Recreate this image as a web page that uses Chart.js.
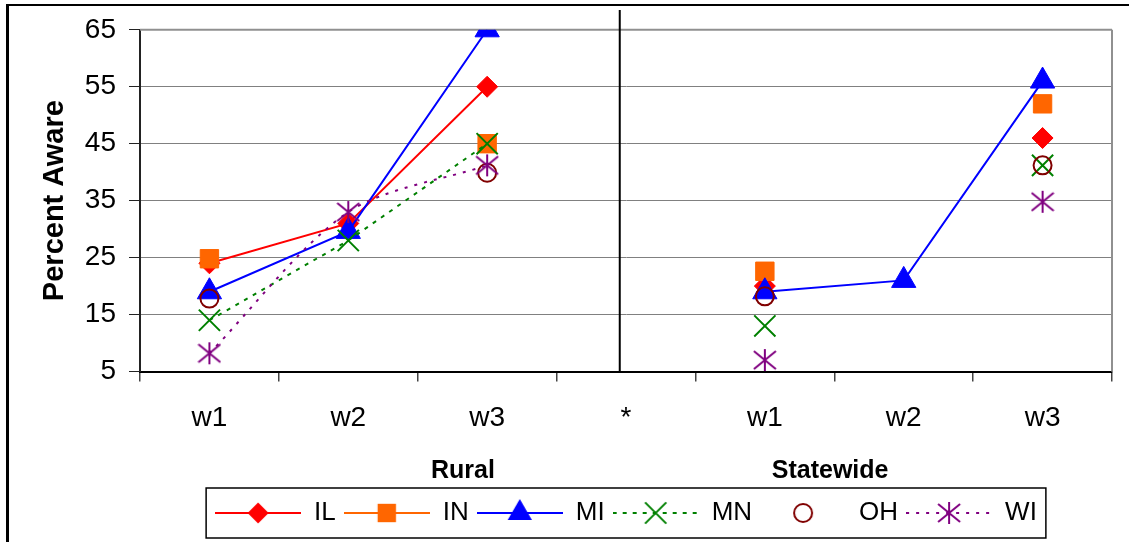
<!DOCTYPE html>
<html>
<head>
<meta charset="utf-8">
<script src="https://cdn.jsdelivr.net/npm/chart.js@4/dist/chart.umd.min.js"></script>
<style>
  html, body { margin: 0; padding: 0; background: #fff; }
  #wrap { width: 1129px; height: 542px; }
</style>
</head>
<body>
<div id="wrap"><canvas id="myChart"></canvas></div>
<script>
const categories = ["w1", "w2", "w3", "*", "w1", "w2", "w3"]
const groupLabels = ["Rural", "Statewide"]
const groupAt = [1.826, 4.47]
const yTicks = [5, 15, 25, 35, 45, 55, 65]
const dividerAt = 2.955

// percent aware, per state (null = no survey)
const il = [24, 31, 55, null, 20, null, 46]
const inn = [24.8, null, 45, null, 22.6, null, 52]
const mi = [19, 29.6, 65, null, 19, 21, 56]
const mn = [14, 28, 45, null, 13, null, 41.2]
const oh = [17.8, null, 39.9, null, 18.2, null, 41.2]
const wi = [8.2, 33, 41.2, null, 7, null, 34.8]

Chart.defaults.font.family = "'Liberation Sans', Arial, sans-serif"
Chart.defaults.color = "#000"

// asterisk marker: vertical bar plus an X
const asterisk = (color) => {
  const c = document.createElement("canvas")
  c.width = 24
  c.height = 24
  const g = c.getContext("2d")
  g.strokeStyle = color
  g.lineWidth = 2
  g.beginPath()
  g.moveTo(12, 1); g.lineTo(12, 23)
  g.moveTo(1, 3); g.lineTo(23, 21)
  g.moveTo(23, 3); g.lineTo(1, 21)
  g.stroke()
  return c
}

const series = [
  { label: "IL", data: il, color: "#ff0000", style: "rectRot", radius: 10.5, line: true, dash: [] },
  { label: "IN", data: inn, color: "#ff6600", style: "rect", radius: 13, line: true, dash: [] },
  { label: "MI", data: mi, color: "#0000ff", style: "triangle", radius: 14, line: true, dash: [] },
  { label: "MN", data: mn, color: "#008000", style: "crossRot", radius: 15, line: true, dash: [4, 6] },
  { label: "OH", data: oh, color: "#800000", style: "circle", radius: 9, line: false, dash: [] },
  { label: "WI", data: wi, color: "#800080", style: asterisk("#800080"), radius: 11, line: true, dash: [3, 7], tension: 0.3 },
]

// marker for the legend samples
const drawMark = (g, s, x, y) => {
  const r = s.radius
  g.fillStyle = s.color
  g.strokeStyle = s.color
  g.lineWidth = 2
  g.setLineDash([])
  g.beginPath()
  if (s.style === "rectRot") {
    g.moveTo(x - r, y); g.lineTo(x, y - r); g.lineTo(x + r, y); g.lineTo(x, y + r); g.closePath(); g.fill()
  } else if (s.style === "rect") {
    const h = r * Math.SQRT1_2
    g.fillRect(x - h, y - h, 2 * h, 2 * h)
  } else if (s.style === "triangle") {
    g.moveTo(x, y - r); g.lineTo(x + 0.866 * r, y + r / 2); g.lineTo(x - 0.866 * r, y + r / 2); g.closePath(); g.fill()
  } else if (s.style === "crossRot") {
    const h = r * Math.SQRT1_2
    g.moveTo(x - h, y - h); g.lineTo(x + h, y + h)
    g.moveTo(x + h, y - h); g.lineTo(x - h, y + h)
    g.stroke()
  } else if (s.style === "circle") {
    g.arc(x, y, r, 0, Math.PI * 2); g.stroke()
  } else {
    g.drawImage(s.style, x - s.style.width / 2, y - s.style.height / 2)
  }
}

const samples = series.map(s => {
  const c = document.createElement("canvas")
  c.width = 86
  c.height = 32
  const g = c.getContext("2d")
  if (s.line) {
    g.strokeStyle = s.color
    g.lineWidth = 2
    g.setLineDash(s.dash)
    g.beginPath()
    g.moveTo(0, 16); g.lineTo(86, 16)
    g.stroke()
  }
  drawMark(g, s, 43, 16)
  return c
})

const frame = {
  id: "frame",
  beforeDraw(chart) {
    const { ctx } = chart
    ctx.save()
    ctx.fillStyle = "#fff"
    ctx.fillRect(0, 0, chart.width, chart.height)
    ctx.strokeStyle = "#000"
    ctx.lineWidth = 3
    ctx.beginPath(); ctx.moveTo(7.5, 4); ctx.lineTo(7.5, chart.height); ctx.stroke()
    ctx.lineWidth = 2
    ctx.beginPath(); ctx.moveTo(6, 5); ctx.lineTo(chart.width, 5); ctx.stroke()
    ctx.restore()
  },
  beforeDatasetsDraw(chart) {
    const { ctx, chartArea: a } = chart
    ctx.save()
    // plot area right edge
    ctx.strokeStyle = "#909090"
    ctx.lineWidth = 2
    ctx.beginPath(); ctx.moveTo(a.right, a.top); ctx.lineTo(a.right, a.bottom); ctx.stroke()
    ctx.beginPath(); ctx.moveTo(a.left, a.top); ctx.lineTo(a.right, a.top); ctx.stroke()
    // divider between rural and statewide
    const x = chart.scales.x.getPixelForValue(dividerAt)
    ctx.strokeStyle = "#000"
    ctx.beginPath(); ctx.moveTo(x, 10); ctx.lineTo(x, a.bottom); ctx.stroke()
    ctx.restore()
  },
  afterDraw(chart) {
    // box around the legend
    const boxes = chart.legend.legendHitBoxes
    if (!boxes || !boxes.length) return
    const left = Math.min(...boxes.map(b => b.left)) - 9
    const right = Math.max(...boxes.map(b => b.left + b.width)) + 9
    const cy = boxes[0].top + boxes[0].height / 2
    const { ctx } = chart
    ctx.save()
    ctx.strokeStyle = "#000"
    ctx.lineWidth = 1.5
    ctx.strokeRect(left, cy - 25, right - left, 50)
    ctx.restore()
  }
}

const ctx = document.getElementById("myChart")
const myChart = new Chart(ctx, {
  type: "line",
  data: {
    labels: categories,
    datasets: series.map((s, i) => ({
      label: s.label,
      data: s.data,
      borderColor: s.color,
      backgroundColor: s.style === "circle" ? "transparent" : s.color,
      borderWidth: 2,
      borderDash: s.dash,
      showLine: s.line,
      spanGaps: false,
      tension: s.tension || 0,
      pointStyle: s.style,
      pointRadius: s.radius,
      pointBorderWidth: s.style === "circle" || s.style === "crossRot" ? 2 : 1,
      order: series.length - i,
    }))
  },
  options: {
    responsive: true,
    maintainAspectRatio: false,
    animation: false,
    layout: { padding: { left: 38, right: 13, top: 29, bottom: 6 } },
    plugins: {
      tooltip: { enabled: false },
      legend: {
        position: "bottom",
        fullSize: false,
        labels: {
          usePointStyle: true,
          pointStyleWidth: 86,
          padding: 8,
          color: "#000",
          font: { size: 26 },
          generateLabels: () => series.map((s, i) => ({
            text: s.label,
            pointStyle: samples[i],
            fillStyle: s.color,
            strokeStyle: s.color,
            lineWidth: 0,
            hidden: false,
            datasetIndex: i,
          }))
        }
      }
    },
    scales: {
      x: {
        offset: true,
        grid: { offset: true, drawOnChartArea: false, tickLength: 10, tickColor: "#444", lineWidth: 1.5 },
        border: { color: "#000", width: 2 },
        ticks: { padding: 20, color: "#000", font: { size: 28 }, maxRotation: 0, autoSkip: false },
        afterFit: s => { s.height = 63 }
      },
      x2: {
        type: "linear",
        position: "bottom",
        min: -0.5,
        max: 6.5,
        grid: { display: false, drawTicks: false },
        border: { display: false },
        afterBuildTicks: s => { s.ticks = groupAt.map(v => ({ value: v })) },
        ticks: {
          padding: 22, color: "#000", font: { size: 25, weight: "bold" },
          maxRotation: 0, autoSkip: false,
          callback: (v, i) => groupLabels[i]
        },
        afterFit: s => { s.height = 57.5 }
      },
      y: {
        min: 5,
        max: 65,
        afterBuildTicks: s => { s.ticks = yTicks.map(v => ({ value: v })) },
        grid: { color: "#808080", lineWidth: 1, tickLength: 11, tickColor: "#222" },
        border: { color: "#222", width: 2 },
        ticks: { padding: 13, color: "#000", font: { size: 28 } },
        title: { display: true, text: "Percent Aware", color: "#000", font: { size: 29, weight: "bold" }, padding: 0 },
        afterFit: s => { s.width = 102 }
      }
    }
  },
  plugins: [frame]
})
</script>
</body>
</html>
